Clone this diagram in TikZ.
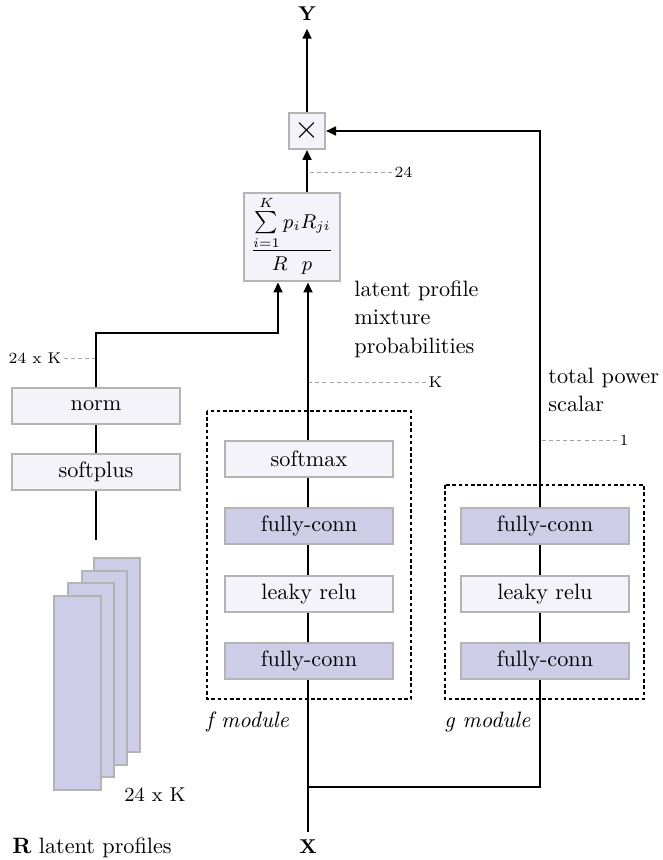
\documentclass[tikz,border=0pt]{standalone}
\usetikzlibrary{arrows.meta}
\definecolor{lightfill}{RGB}{243,243,249}
\definecolor{purplefill}{RGB}{205,205,231}
\definecolor{bordergray}{RGB}{180,180,180}
\begin{document}
\begin{tikzpicture}[x=0.45pt,y=-0.45pt,
 lbox/.style={draw=bordergray,line width=0.9pt,fill=lightfill,minimum width=75.6pt,minimum height=16.2pt,inner sep=0pt,font=\normalsize},
 pbox/.style={lbox,fill=purplefill},
 conn/.style={line width=0.9pt,draw=black},
 arr/.style={conn,-{Triangle[length=4.5pt,width=4pt]}},
 dim/.style={draw=gray!70,line width=0.4pt,dash pattern=on 1.8pt off 1.4pt},
 modbox/.style={draw=black,line width=0.9pt,dash pattern=on 1.6pt off 1.2pt},
 stackbox/.style={draw=bordergray,line width=0.9pt,fill=purplefill},
 smalllab/.style={font=\scriptsize,inner sep=1pt}
]
\useasboundingbox (0,0) rectangle (662,860);

% module frames
\draw[modbox] (207,411) rectangle (411,699);
\draw[modbox] (445,485) rectangle (644,699);

% stacked latent profiles
\draw[stackbox] (94,558) rectangle (140,752);
\draw[stackbox] (82,571) rectangle (127,765);
\draw[stackbox] (68,583) rectangle (114,777);
\draw[stackbox] (54,596) rectangle (101,790);

% nodes
\node[font=\small\bfseries] (Y) at (307,14) {Y};
\node[lbox,minimum width=16.2pt,minimum height=16.2pt] (mul) at (307,131) {\Large$\times$};
\node[lbox,minimum width=43.2pt,minimum height=40pt,font=\small] (sum) at (292,237)
  {$\begin{array}{@{}c@{}}\sum\limits_{i=1}^{K}p_iR_{ji}\\[1pt]\hline\rule{0pt}{9pt}R\hspace{6.5pt}p\end{array}$};

\node[lbox] (norm) at (96,406) {norm};
\node[lbox] (softplus) at (96,472) {softplus};

\node[lbox] (fsoft) at (309,459) {softmax};
\node[pbox] (ffc1) at (309,526) {fully-conn};
\node[lbox] (frelu) at (309,594) {leaky relu};
\node[pbox] (ffc2) at (309,661) {fully-conn};

\node[pbox] (gfc1) at (545,526) {fully-conn};
\node[lbox] (grelu) at (545,594) {leaky relu};
\node[pbox] (gfc2) at (545,661) {fully-conn};

\node[font=\small\bfseries] (X) at (308,847) {X};

\coordinate (split) at (308,787);
\coordinate (gline) at (540,787);
\coordinate (stacktop) at (96,540);
\coordinate (rj) at (278,333);

% texts
\node[anchor=west,align=left,font=\normalsize,inner sep=0pt] (mixlab) at (354,319)
  {latent profile\\[0.8pt]mixture\\[0.8pt]probabilities};
\node[anchor=west,align=left,font=\normalsize,inner sep=0pt] (powlab) at (548,390)
  {total power\\[0.8pt]scalar};
\node[anchor=west,font=\itshape,inner sep=0pt] (flab) at (206,722) {f module};
\node[anchor=west,font=\itshape,inner sep=0pt] (glab) at (444,722) {g module};
\node[font=\small] (stacklab) at (155,795) {24 x K};
\node[font=\normalsize] (Rlab) at (92,848) {\textbf{R} latent profiles};

% dimension labels
\node[smalllab,anchor=east] (d24K) at (64,358) {24 x K};
\draw[dim] (d24K.east) -- (d24K.east -| norm.north);
\node[smalllab,anchor=west] (d24) at (392,172) {24};
\draw[dim] (d24.west) -- (d24.west -| mul.south);
\node[smalllab,anchor=west] (dK) at (426,382) {K};
\draw[dim] (dK.west) -- (dK.west -| split);
\node[smalllab,anchor=west] (d1) at (617,440) {1};
\draw[dim] (d1.west) -- (d1.west -| gline);

% f path
\draw[conn] (X.north) -- (ffc2.south -| X.north);
\draw[conn] (ffc2.north -| X.north) -- (frelu.south -| X.north);
\draw[conn] (frelu.north -| X.north) -- (ffc1.south -| X.north);
\draw[conn] (ffc1.north -| X.north) -- (fsoft.south -| X.north);
\draw[arr] (fsoft.north -| X.north) -- (sum.south -| X.north);

% g path
\draw[conn] (split) -- (gline) -- (gfc2.south -| gline);
\draw[conn] (gfc2.north -| gline) -- (grelu.south -| gline);
\draw[conn] (grelu.north -| gline) -- (gfc1.south -| gline);
\draw[arr] (gfc1.north -| gline) |- (mul.east);

% R path
\draw[conn] (stacktop) -- (softplus.south);
\draw[conn] (softplus.north) -- (norm.south);
\draw[arr] (norm.north) |- (rj) -- (rj |- sum.south);

% top
\draw[arr] (mul.south |- sum.north) -- (mul.south);
\draw[arr] (mul.north) -- (Y.south);
\end{tikzpicture}
\end{document}
